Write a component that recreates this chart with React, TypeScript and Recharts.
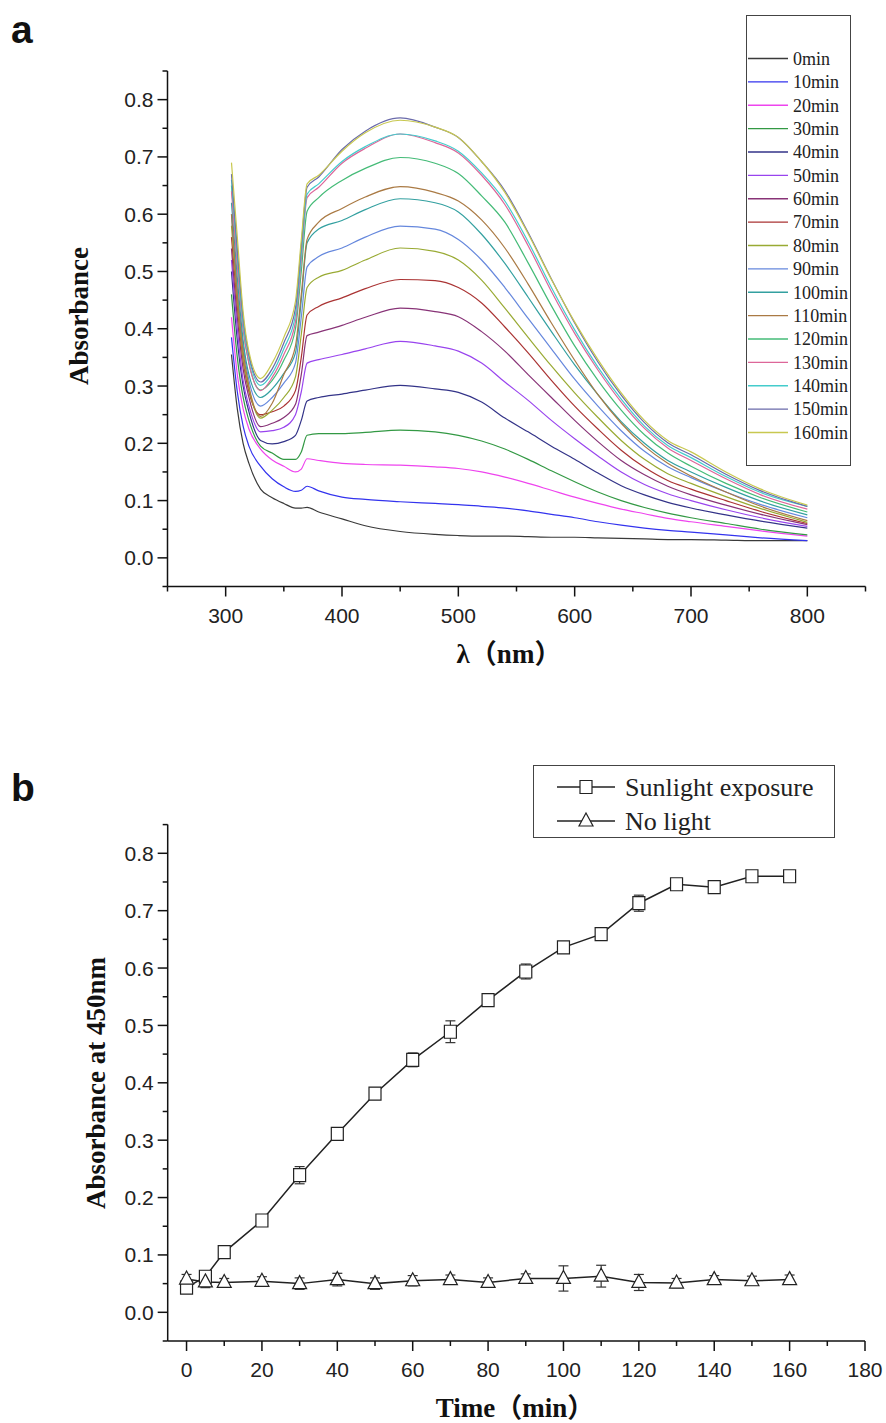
import React from 'react';
import { LineChart, Line, XAxis, YAxis, Legend, ErrorBar } from 'recharts';

// ---------- Panel a: UV-vis spectra ----------
const wavelengths = [305, 310, 315, 320, 330, 340, 350, 360, 365, 370, 380, 400, 420, 450, 480, 500, 520, 540, 560, 580, 600, 620, 640, 660, 680, 700, 730, 760, 800];

const abs0 = [0.355, 0.26, 0.2, 0.165, 0.12, 0.105, 0.095, 0.087, 0.087, 0.088, 0.08, 0.068, 0.056, 0.046, 0.041, 0.039, 0.038, 0.038, 0.037, 0.036, 0.036, 0.035, 0.034, 0.033, 0.032, 0.032, 0.031, 0.03, 0.03];
const abs10 = [0.385, 0.29, 0.23, 0.195, 0.16, 0.138, 0.124, 0.116, 0.118, 0.125, 0.117, 0.106, 0.102, 0.098, 0.095, 0.093, 0.09, 0.087, 0.082, 0.076, 0.07, 0.063, 0.057, 0.052, 0.048, 0.045, 0.04, 0.035, 0.03];
const abs20 = [0.42, 0.32, 0.26, 0.225, 0.19, 0.171, 0.16, 0.15, 0.155, 0.173, 0.17, 0.165, 0.163, 0.162, 0.159, 0.156, 0.15, 0.141, 0.13, 0.118, 0.106, 0.095, 0.085, 0.077, 0.069, 0.063, 0.055, 0.047, 0.038];
const abs30 = [0.46, 0.35, 0.28, 0.24, 0.195, 0.183, 0.172, 0.172, 0.185, 0.214, 0.217, 0.217, 0.219, 0.223, 0.22, 0.214, 0.204, 0.19, 0.172, 0.152, 0.133, 0.115, 0.1, 0.088, 0.078, 0.07, 0.06, 0.05, 0.04];
const abs40 = [0.5, 0.38, 0.3, 0.255, 0.205, 0.199, 0.203, 0.214, 0.24, 0.274, 0.28, 0.286, 0.293, 0.301, 0.295, 0.289, 0.272, 0.244, 0.22, 0.195, 0.172, 0.148, 0.126, 0.11, 0.097, 0.087, 0.075, 0.064, 0.052];
const abs50 = [0.52, 0.4, 0.31, 0.265, 0.22, 0.222, 0.228, 0.25, 0.29, 0.34, 0.346, 0.355, 0.365, 0.378, 0.37, 0.361, 0.34, 0.307, 0.275, 0.24, 0.208, 0.178, 0.15, 0.128, 0.112, 0.1, 0.084, 0.07, 0.055];
const abs60 = [0.54, 0.42, 0.33, 0.28, 0.229, 0.235, 0.245, 0.268, 0.32, 0.388, 0.394, 0.406, 0.42, 0.436, 0.43, 0.421, 0.395, 0.361, 0.32, 0.28, 0.24, 0.203, 0.17, 0.145, 0.125, 0.11, 0.092, 0.076, 0.058];
const abs70 = [0.56, 0.44, 0.345, 0.29, 0.25, 0.255, 0.265, 0.292, 0.35, 0.424, 0.439, 0.454, 0.47, 0.486, 0.484, 0.472, 0.445, 0.403, 0.358, 0.31, 0.265, 0.225, 0.188, 0.158, 0.135, 0.12, 0.1, 0.081, 0.06];
const abs80 = [0.58, 0.45, 0.35, 0.295, 0.244, 0.258, 0.28, 0.316, 0.39, 0.472, 0.49, 0.502, 0.52, 0.541, 0.535, 0.52, 0.485, 0.436, 0.385, 0.335, 0.288, 0.245, 0.205, 0.172, 0.147, 0.13, 0.107, 0.086, 0.062];
const abs90 = [0.6, 0.47, 0.37, 0.31, 0.265, 0.28, 0.305, 0.34, 0.42, 0.508, 0.526, 0.541, 0.56, 0.579, 0.574, 0.556, 0.52, 0.472, 0.418, 0.365, 0.312, 0.265, 0.222, 0.186, 0.159, 0.14, 0.115, 0.093, 0.07];
const abs100 = [0.62, 0.49, 0.38, 0.32, 0.28, 0.295, 0.322, 0.358, 0.45, 0.55, 0.574, 0.589, 0.608, 0.627, 0.62, 0.604, 0.565, 0.514, 0.455, 0.395, 0.337, 0.285, 0.238, 0.2, 0.17, 0.15, 0.123, 0.099, 0.075];
const abs110 = [0.6, 0.46, 0.36, 0.3, 0.247, 0.27, 0.32, 0.37, 0.46, 0.556, 0.586, 0.61, 0.63, 0.648, 0.638, 0.623, 0.59, 0.541, 0.478, 0.41, 0.345, 0.285, 0.235, 0.195, 0.165, 0.143, 0.115, 0.09, 0.065];
const abs120 = [0.65, 0.52, 0.4, 0.34, 0.293, 0.31, 0.345, 0.4, 0.5, 0.605, 0.629, 0.659, 0.68, 0.699, 0.689, 0.671, 0.632, 0.586, 0.515, 0.44, 0.37, 0.31, 0.258, 0.215, 0.183, 0.16, 0.13, 0.105, 0.08];
const abs130 = [0.64, 0.51, 0.4, 0.34, 0.292, 0.315, 0.355, 0.412, 0.52, 0.629, 0.647, 0.689, 0.715, 0.74, 0.725, 0.707, 0.668, 0.617, 0.545, 0.465, 0.392, 0.328, 0.272, 0.226, 0.192, 0.17, 0.138, 0.11, 0.085];
const abs140 = [0.66, 0.53, 0.41, 0.35, 0.301, 0.322, 0.365, 0.424, 0.53, 0.635, 0.653, 0.692, 0.718, 0.74, 0.728, 0.71, 0.672, 0.623, 0.552, 0.472, 0.398, 0.333, 0.277, 0.23, 0.196, 0.175, 0.142, 0.114, 0.09];
const abs150 = [0.67, 0.54, 0.42, 0.355, 0.307, 0.33, 0.375, 0.436, 0.545, 0.647, 0.665, 0.713, 0.745, 0.768, 0.752, 0.734, 0.692, 0.641, 0.568, 0.487, 0.41, 0.342, 0.284, 0.236, 0.201, 0.18, 0.146, 0.117, 0.09];
const abs160 = [0.69, 0.56, 0.43, 0.36, 0.313, 0.34, 0.385, 0.448, 0.555, 0.653, 0.668, 0.71, 0.742, 0.764, 0.752, 0.734, 0.692, 0.638, 0.566, 0.486, 0.412, 0.346, 0.288, 0.24, 0.205, 0.185, 0.15, 0.12, 0.092];

const seriesNames = ['0min', '10min', '20min', '30min', '40min', '50min', '60min', '70min', '80min', '90min', '100min', '110min', '120min', '130min', '140min', '150min', '160min'];
const seriesColors = ['#3a3a3a', '#3333ee', '#ee44ee', '#339944', '#333388', '#9944ee', '#883377', '#aa3333', '#99aa33', '#6688dd', '#33a0a0', '#aa7a44', '#44bb77', '#dd6699', '#44cccc', '#6a6aaa', '#c8c850'];
const spectra = [abs0, abs10, abs20, abs30, abs40, abs50, abs60, abs70, abs80, abs90, abs100, abs110, abs120, abs130, abs140, abs150, abs160];

const xTicksA = [250, 300, 350, 400, 450, 500, 550, 600, 650, 700, 750, 800, 850];
const yTicks = [-0.05, 0, 0.05, 0.1, 0.15, 0.2, 0.25, 0.3, 0.35, 0.4, 0.45, 0.5, 0.55, 0.6, 0.65, 0.7, 0.75, 0.8, 0.85];

const spectraData = wavelengths.map((w, i) => {
  const row: Record<string, number> = { w };
  spectra.forEach((s, k) => {
    row['s' + k] = s[i];
  });
  return row;
});

// ---------- Panel b: kinetics ----------
const times = [0, 5, 10, 20, 30, 40, 50, 60, 70, 80, 90, 100, 110, 120, 130, 140, 150, 160];
const sunlight = [0.043, 0.062, 0.105, 0.16, 0.239, 0.311, 0.381, 0.44, 0.489, 0.544, 0.594, 0.636, 0.659, 0.713, 0.746, 0.741, 0.76, 0.76];
const sunlightErr = [0.008, 0.01, 0.005, 0.006, 0.015, 0.005, 0.01, 0.012, 0.019, 0.005, 0.013, 0.005, 0.005, 0.014, 0.005, 0.006, 0.005, 0.008];
const noLight = [0.058, 0.053, 0.052, 0.054, 0.05, 0.057, 0.05, 0.055, 0.057, 0.052, 0.059, 0.059, 0.063, 0.052, 0.051, 0.057, 0.055, 0.057];
const noLightErr = [0.008, 0.01, 0.007, 0.008, 0.01, 0.011, 0.01, 0.009, 0.008, 0.008, 0.008, 0.022, 0.019, 0.014, 0.008, 0.007, 0.008, 0.008];
const xTicksB = [0, 10, 20, 30, 40, 50, 60, 70, 80, 90, 100, 110, 120, 130, 140, 150, 160, 170, 180];

const kineticsData = times.map((t, i) => ({
  t,
  sun: sunlight[i],
  sunErr: sunlightErr[i],
  dark: noLight[i],
  darkErr: noLightErr[i],
}));

// ---------- styling helpers ----------
const INK = '#111';
const SANS = '"Liberation Sans", Arial, sans-serif';
const SERIF = '"Liberation Serif", "Times New Roman", "Noto Sans CJK SC", serif';
const TITLE_FONT = '"Liberation Serif", "Times New Roman", "Noto Sans CJK SC", serif';

const makeXTick = (majorStep: number, maxLabel: number) => (props: any) => {
  const { x, y, payload } = props;
  const v = payload.value as number;
  const major = Math.abs(v / majorStep - Math.round(v / majorStep)) < 1e-6 && v <= maxLabel && v >= 0 && !(majorStep === 100 && v < 300);
  return (
    <g>
      <line x1={x} x2={x} y1={y} y2={y + (major ? 10 : 5)} stroke={INK} strokeWidth={1.5} />
      {major && (
        <text x={x} y={y + 28.5} dy="0.36em" textAnchor="middle" fontFamily={SANS} fontSize={21} fill="#222">
          {String(v)}
        </text>
      )}
    </g>
  );
};

const YTick = (props: any) => {
  const { x, y, payload } = props;
  const v = payload.value as number;
  const major = Math.abs(v * 10 - Math.round(v * 10)) < 1e-6 && v > -1e-9 && v < 0.8 + 1e-9;
  return (
    <g>
      <line x1={x - (major ? 10 : 5)} x2={x} y1={y} y2={y} stroke={INK} strokeWidth={1.5} />
      {major && (
        <text x={x - 14} y={y} dy="0.36em" textAnchor="end" fontFamily={SANS} fontSize={21} fill="#222">
          {v.toFixed(1)}
        </text>
      )}
    </g>
  );
};

const AxisTitle = (props: any) => {
  const { tX, tY, rot, label } = props;
  return (
    <text
      x={tX}
      y={tY}
      textAnchor="middle"
      dominantBaseline="central"
      transform={rot ? `rotate(${rot} ${tX} ${tY})` : undefined}
      fontFamily={TITLE_FONT}
      fontWeight="bold"
      fontSize={27}
      fill="#111"
    >
      {label}
    </text>
  );
};

const SpectraLegend = () => (
  <div style={{ width: 105, height: 451, border: '1px solid #444', boxSizing: 'border-box', background: '#fff' }}>
    <svg width={103} height={449} style={{ display: 'block' }}>
      {seriesNames.map((n, i) => {
        const cy = 42.5 + i * 23.375;
        return (
          <g key={n}>
            <line x1={1} x2={41} y1={cy} y2={cy} stroke={seriesColors[i]} strokeWidth={1.4} />
            <text x={46} y={cy} dy="0.35em" fontFamily={SERIF} fontSize={18} fill="#222">
              {n}
            </text>
          </g>
        );
      })}
    </svg>
  </div>
);

const squarePath = (cx: number, cy: number) => `M${cx - 6},${cy - 6.5}h12v13h-12z`;
const trianglePath = (cx: number, cy: number) => `M${cx},${cy - 8}L${cx + 7},${cy + 5}L${cx - 7},${cy + 5}z`;

const KineticsLegend = () => (
  <div style={{ width: 302, height: 73, border: '1px solid #444', boxSizing: 'border-box', background: '#fff' }}>
    <svg width={300} height={71} style={{ display: 'block' }}>
      <line x1={23} x2={81} y1={21} y2={21} stroke="#222" strokeWidth={1.5} />
      <path d={squarePath(52, 21)} fill="#fff" stroke="#222" strokeWidth={1.2} />
      <text x={91} y={21} dy="0.35em" fontFamily={SERIF} fontSize={26} fill="#222">Sunlight exposure</text>
      <line x1={23} x2={81} y1={55} y2={55} stroke="#222" strokeWidth={1.5} />
      <path d={trianglePath(52, 55)} fill="#fff" stroke="#222" strokeWidth={1.2} />
      <text x={91} y={55} dy="0.35em" fontFamily={SERIF} fontSize={26} fill="#222">No light</text>
    </svg>
  </div>
);

const SquareDot = (props: any) => {
  const { cx, cy } = props;
  if (cx == null || cy == null) return null;
  return <path d={squarePath(cx, cy)} fill="#fff" stroke="#222" strokeWidth={1.2} />;
};
const TriangleDot = (props: any) => {
  const { cx, cy } = props;
  if (cx == null || cy == null) return null;
  return <path d={trianglePath(cx, cy)} fill="#fff" stroke="#222" strokeWidth={1.2} />;
};

export default function App() {
  return (
    <div style={{ position: 'absolute', left: 0, top: 0, width: 886, height: 1423, background: '#fff', overflow: 'hidden' }}>
      <svg width={886} height={1423} style={{ position: 'absolute', left: 0, top: 0 }}>
        <text x={11} y={43} fontFamily={SANS} fontWeight="bold" fontSize={39} fill="#111">a</text>
        <text x={11} y={801} fontFamily={SANS} fontWeight="bold" fontSize={39} fill="#111">b</text>
      </svg>

      <div style={{ position: 'absolute', left: 0, top: 0 }}>
        <LineChart width={886} height={700} data={spectraData} margin={{ top: 71, right: 20.5, bottom: 83.5, left: 107.5 }}>
          <XAxis
            dataKey="w"
            type="number"
            domain={[250, 850]}
            ticks={xTicksA}
            interval={0}
            height={30}
            tickSize={0}
            tickMargin={0}
            tickLine={false}
            axisLine={{ stroke: INK, strokeWidth: 1.5 }}
            tick={makeXTick(100, 800)}
            label={<AxisTitle tX={509} tY={653.5} label="λ（nm）" />}
          />
          <YAxis
            type="number"
            domain={[-0.05, 0.85]}
            ticks={yTicks}
            interval={0}
            width={60}
            tickSize={0}
            tickMargin={0}
            tickLine={false}
            axisLine={{ stroke: INK, strokeWidth: 1.5 }}
            tick={YTick}
            label={<AxisTitle tX={79} tY={316} rot={-90} label="Absorbance" />}
          />
          {seriesNames.map((n, k) => (
            <Line
              key={n}
              name={n}
              dataKey={'s' + k}
              type="monotone"
              stroke={seriesColors[k]}
              strokeWidth={1.2}
              dot={false}
              isAnimationActive={false}
            />
          ))}
          <Legend
            layout="vertical"
            align="center"
            verticalAlign="middle"
            content={() => <SpectraLegend />}
            wrapperStyle={{ left: 746, top: 15, width: 105, height: 451, margin: 0 }}
          />
        </LineChart>
      </div>

      <div style={{ position: 'absolute', left: 0, top: 740 }}>
        <LineChart width={886} height={683} data={kineticsData} margin={{ top: 84.6, right: 21, bottom: 52, left: 107.7 }}>
          <XAxis
            dataKey="t"
            type="number"
            domain={[-5, 180]}
            ticks={xTicksB}
            interval={0}
            height={30}
            tickSize={0}
            tickMargin={0}
            tickLine={false}
            axisLine={{ stroke: INK, strokeWidth: 1.5 }}
            tick={makeXTick(20, 180)}
            label={<AxisTitle tX={515} tY={667.5} label="Time（min）" />}
          />
          <YAxis
            type="number"
            domain={[-0.05, 0.85]}
            ticks={yTicks}
            interval={0}
            width={60}
            tickSize={0}
            tickMargin={0}
            tickLine={false}
            axisLine={{ stroke: INK, strokeWidth: 1.5 }}
            tick={YTick}
            label={<AxisTitle tX={96} tY={343} rot={-90} label="Absorbance at 450nm" />}
          />
          <Line
            name="Sunlight exposure"
            dataKey="sun"
            type="linear"
            stroke="#222"
            strokeWidth={1.5}
            dot={(p: any) => <SquareDot key={'sq' + p.index} {...p} />}
            isAnimationActive={false}
          >
            <ErrorBar dataKey="sunErr" width={5} stroke="#333" strokeWidth={1.2} direction="y" />
          </Line>
          <Line
            name="No light"
            dataKey="dark"
            type="linear"
            stroke="#222"
            strokeWidth={1.5}
            dot={(p: any) => <TriangleDot key={'tr' + p.index} {...p} />}
            isAnimationActive={false}
          >
            <ErrorBar dataKey="darkErr" width={5} stroke="#333" strokeWidth={1.2} direction="y" />
          </Line>
          <Legend
            layout="vertical"
            align="center"
            verticalAlign="middle"
            content={() => <KineticsLegend />}
            wrapperStyle={{ left: 533, top: 25, width: 302, height: 73, margin: 0 }}
          />
        </LineChart>
      </div>
    </div>
  );
}
